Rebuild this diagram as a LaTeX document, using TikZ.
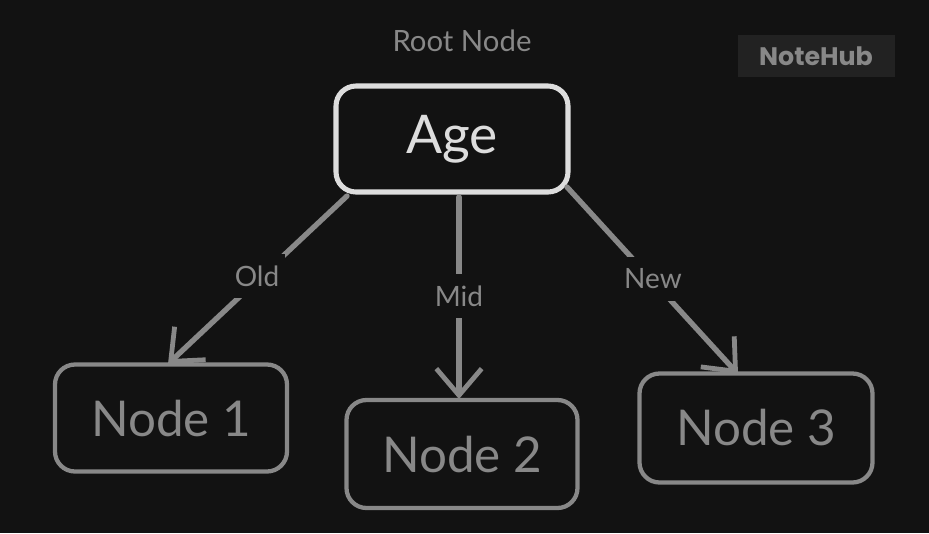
\documentclass[tikz,border=0pt]{standalone}
\usepackage{fontspec}
\setmainfont{Lato}
\newfontfamily\brandfont{Poppins}
\usetikzlibrary{arrows.meta}
\definecolor{bg}{HTML}{121212}
\definecolor{rootc}{HTML}{DDDDDD}
\definecolor{graycol}{HTML}{888888}
\definecolor{brandbg}{HTML}{222222}
\tikzset{
  rootbox/.style={draw=rootc, line width=3.8pt, rounded corners=15pt, fill=bg, text=rootc, font=\fontsize{40}{46}\selectfont},
  leafbox/.style={draw=graycol, line width=3.2pt, rounded corners=15pt, fill=bg, text=graycol, font=\fontsize{37}{42}\selectfont},
  edge/.style={draw=graycol, line width=4pt, line cap=round, -{Straight Barb[length=20pt, width=34pt, line width=3.6pt]}},
  elabel/.style={fill=bg, text=graycol, font=\fontsize{21}{24}\selectfont, inner xsep=4pt, inner ysep=9pt},
}
\begin{document}
\begin{tikzpicture}[x=0.75pt, y=-0.75pt]
\fill[bg] (0,0) rectangle (929,533);
\useasboundingbox (0,0) rectangle (929,533);
% brand
\node[fill=brandbg, text=graycol, font=\brandfont\bfseries\fontsize{19}{22}\selectfont, minimum width=157*0.75pt, minimum height=42*0.75pt, inner sep=0pt] (brand) at (816,56) {NoteHub};
% title
\node[text=graycol, font=\fontsize{22}{26}\selectfont] (title) at (462,41) {Root Node};
% nodes
\node[rootbox, minimum width=232*0.75pt, minimum height=106*0.75pt] (root) at (452,139) {Age};
\node[leafbox, minimum width=232*0.75pt, minimum height=107*0.75pt] (n1) at (171,418) {Node 1};
\node[leafbox, minimum width=231*0.75pt, minimum height=108*0.75pt] (n2) at (462,454) {Node 2};
\node[leafbox, minimum width=233*0.75pt, minimum height=109*0.75pt] (n3) at (756,428) {Node 3};
% edge endpoints
\coordinate (s1) at (347,196);
\coordinate (e1) at (168,364);
\coordinate (s2) at (459,197);
\coordinate (e2) at (459,399);
\coordinate (s3) at (567,187);
\coordinate (e3) at (738,374);
% edges
\draw[edge] (s1) -- (e1);
\draw[edge] (s2) -- (e2);
\draw[edge] (s3) -- (e3);
% labels
\node[elabel] (l1) at (257,276) {Old};
\node[elabel] (l2) at (459,296) {Mid};
\node[elabel] (l3) at (653,279) {New};
\end{tikzpicture}
\end{document}
